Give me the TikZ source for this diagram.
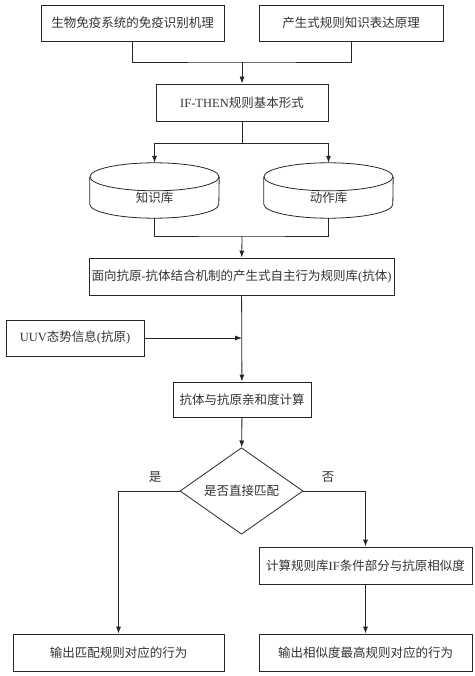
\documentclass[tikz,border=0pt]{standalone}
\usepackage{fontspec}
\setmainfont{Liberation Serif}
\newfontfamily\cjk{Noto Sans CJK SC}
\usetikzlibrary{shapes.geometric,arrows.meta}
\tikzset{
  box/.style={draw=black!85, line width=0.8pt, minimum height=36pt, inner sep=2pt},
  dbase/.style={minimum width=129pt, minimum height=55pt, inner sep=0pt,
    text height=24pt, text depth=0pt},
  decide/.style={draw=black!85, line width=0.8pt, diamond, minimum width=123pt,
    minimum height=56pt, inner sep=0pt},
  link/.style={draw=black!85, line width=0.8pt},
  go/.style={link, -{Latex[length=7pt,width=5pt]}}
}
\begin{document}
\begin{tikzpicture}[x=1pt,y=-1pt, font=\fontsize{12.5}{15}\selectfont, text=black!80]
  \useasboundingbox (0,0) rectangle (474,676);
  \node [box, minimum width=183pt] (bio) at (132.5,23) {\cjk 生物免疫系统的免疫识别机理};
  \node [box, minimum width=184pt] (prod) at (351,23) {\cjk 产生式规则知识表达原理};
  \node [box, minimum width=172pt, minimum height=37pt] (ifthen) at (242,102.5) {IF-THEN{\cjk 规则基本形式}};
  \node [dbase] (know) at (154.5,190.5) {\cjk 知识库};
  \node [dbase] (act) at (328.5,190.5) {\cjk 动作库};
  \node [box, minimum width=305pt, minimum height=37pt] (rules) at (241.5,276.5)
    {{\cjk 面向抗原}-{\cjk 抗体结合机制的产生式自主行为规则库}({\cjk 抗体})};
  \node [box, minimum width=138pt] (uuv) at (75,338) {UUV{\cjk 态势信息}({\cjk 抗原})};
  \node [box, minimum width=138pt, minimum height=35pt] (affin) at (242,399.5) {\cjk 抗体与抗原亲和度计算};
  \node [decide] (match) at (241.5,491) {\cjk 是否直接匹配};
  \node [box, minimum width=211pt, minimum height=37pt] (outm) at (118.5,652.5) {\cjk 输出匹配规则对应的行为};
  \node [box, minimum width=213pt, minimum height=37pt] (simil) at (365.5,565.5) {{\cjk 计算规则库}IF{\cjk 条件部分与抗原相似度}};
  \node [box, minimum width=213pt, minimum height=37pt] (outs) at (365.5,652.5) {\cjk 输出相似度最高规则对应的行为};
  \node (yes) at (155,477) {\cjk 是};
  \node (no) at (328,477) {\cjk 否};

  % drum outlines of the two rule stores
  \foreach \db in {know,act} {
    \draw [link] ([yshift=-14pt]\db.north) ellipse [x radius=64.5pt, y radius=14pt];
    \draw [link] ([yshift=-14pt]\db.north west) -- ([yshift=14pt]\db.south west)
      arc [start angle=180, end angle=360, x radius=64.5pt, y radius=14pt]
      -- ([yshift=-14pt]\db.north east);
  }

  \coordinate (j1) at (242,62);
  \coordinate (j2) at (242,143);
  \coordinate (j3) at (242,236);
  \coordinate (j4) at (242,338);

  \draw [link] (bio.south) |- (j1) -| (prod.south);
  \draw [go] (j1) -- (ifthen);
  \draw [link] (ifthen) -- (j2);
  \draw [go] (j2) -| (know.north);
  \draw [go] (j2) -| (act.north);
  \draw [link] (know.south) |- (j3) -| (act.south);
  \draw [go] (j3) -- (rules);
  \draw [go] (rules) -- (affin);
  \draw [go] (uuv) -- (j4);
  \draw [go] (affin) -- (match);
  \draw [go] (match.west) -| (outm.north);
  \draw [go] (match.east) -| (simil.north);
  \draw [go] (simil) -- (outs);
\end{tikzpicture}
\end{document}
